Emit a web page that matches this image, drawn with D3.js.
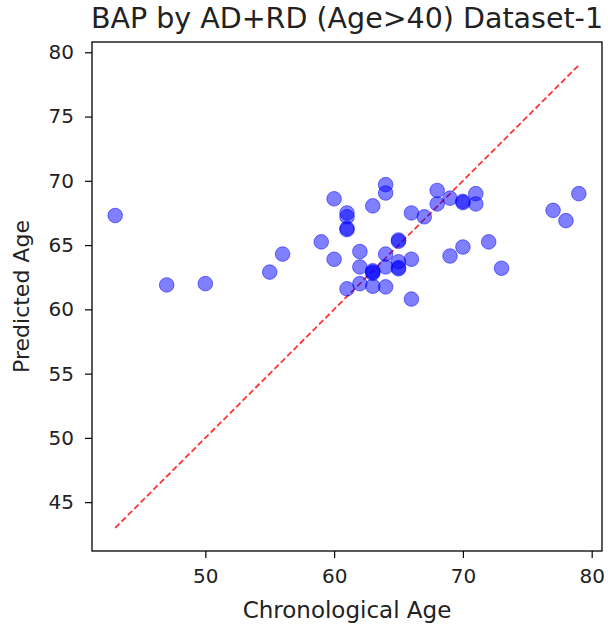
<!DOCTYPE html>
<html>
<head>
<meta charset="utf-8">
<script src="https://cdn.jsdelivr.net/npm/d3@7"></script>
<style>
  body { margin: 0; background: #fff; }
  text { font-family: "DejaVu Sans", sans-serif; fill: #222; }
</style>
</head>
<body>
<script>
// chart data
var chronAge = [43, 47, 50, 55, 56, 59, 60, 60, 61, 61, 61, 61, 61, 62, 62, 62,
  63, 63, 63, 63, 63, 64, 64, 64, 64, 64, 65, 65, 65, 65, 65, 66, 66, 66, 67,
  68, 68, 69, 69, 70, 70, 70, 71, 71, 72, 73, 77, 78, 79];
var predAge = [67.3, 61.9, 62.0, 62.9, 64.3, 65.25, 68.6, 63.9, 67.5, 67.2, 66.3, 66.2, 61.6, 64.5, 63.3, 62.0,
  68.05, 63.0, 62.9, 62.8, 61.8, 69.7, 69.05, 64.3, 63.3, 61.75, 65.4, 65.3, 63.7, 63.25, 63.15, 67.5, 63.9, 60.8, 67.2,
  69.25, 68.2, 68.65, 64.15, 68.4, 68.3, 64.85, 69.0, 68.2, 65.25, 63.2, 67.7, 66.9, 69.0];
var idealLine = [43, 79];
var xTicks = [50, 60, 70, 80];
var yTicks = [45, 50, 55, 60, 65, 70, 75, 80];
var title = 'BAP by AD+RD (Age>40) Dataset-1';
var xLabel = 'Chronological Age';
var yLabel = 'Predicted Age';

var width = 608, height = 628;
var margin = {top: 42, right: 6, bottom: 77, left: 92};

var svg = d3.select('body').append('svg')
  .attr('width', width).attr('height', height);

var x = d3.scaleLinear().domain([41.2, 80.8]).range([margin.left, width - margin.right]);
var y = d3.scaleLinear().domain([41.2, 80.8]).range([height - margin.bottom, margin.top]);

// diagonal reference line
svg.append('line')
  .attr('x1', x(idealLine[0])).attr('y1', y(idealLine[0]))
  .attr('x2', x(idealLine[1])).attr('y2', y(idealLine[1]))
  .attr('stroke', 'red')
  .attr('stroke-opacity', 0.8)
  .attr('stroke-width', 1.8)
  .attr('stroke-dasharray', '6,3');

// points
svg.selectAll('circle')
  .data(chronAge)
  .enter()
  .append('circle')
  .attr('cx', function (d) { return x(d); })
  .attr('cy', function (d, i) { return y(predAge[i]); })
  .attr('r', 7.3)
  .attr('fill', 'blue')
  .attr('fill-opacity', 0.5)
  .attr('stroke', 'blue')
  .attr('stroke-opacity', 0.5)
  .attr('stroke-width', 1);

// frame
svg.append('rect')
  .attr('x', margin.left).attr('y', margin.top)
  .attr('width', width - margin.left - margin.right)
  .attr('height', height - margin.top - margin.bottom)
  .attr('fill', 'none').attr('stroke', '#000').attr('stroke-width', 1.3);

var xAxis = svg.append('g')
  .attr('transform', 'translate(0,' + (height - margin.bottom) + ')')
  .call(d3.axisBottom(x).tickValues(xTicks).tickSize(7).tickPadding(11));
var yAxis = svg.append('g')
  .attr('transform', 'translate(' + margin.left + ',0)')
  .call(d3.axisLeft(y).tickValues(yTicks).tickSize(7).tickPadding(11));

[xAxis, yAxis].forEach(function (g) {
  g.select('.domain').remove();
  g.selectAll('.tick line').attr('stroke', '#000').attr('stroke-width', 1.2);
  g.selectAll('.tick text').style('font-family', '"DejaVu Sans", sans-serif')
    .style('font-size', '20px').attr('fill', '#222');
});

svg.append('text')
  .attr('x', (margin.left + width - margin.right) / 2)
  .attr('y', 28)
  .attr('text-anchor', 'middle')
  .style('font-size', '28.5px')
  .text(title);

svg.append('text')
  .attr('x', (margin.left + width - margin.right) / 2)
  .attr('y', 618)
  .attr('text-anchor', 'middle')
  .style('font-size', '23px')
  .text(xLabel);

svg.append('text')
  .attr('transform', 'translate(29,' + ((margin.top + height - margin.bottom) / 2) + ') rotate(-90)')
  .attr('text-anchor', 'middle')
  .style('font-size', '22px')
  .text(yLabel);
</script>
</body>
</html>
